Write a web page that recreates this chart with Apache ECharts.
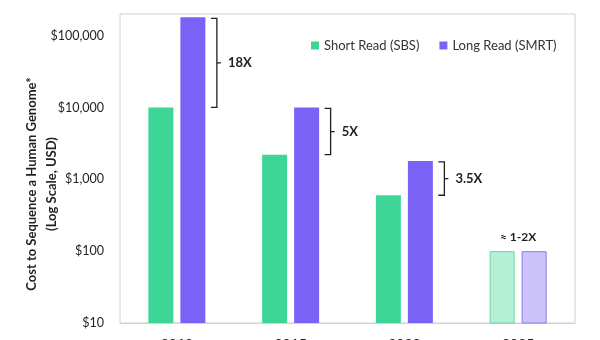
<!DOCTYPE html>
<html>
<head>
<meta charset="utf-8">
<script src="https://cdn.jsdelivr.net/npm/echarts@6/dist/echarts.min.js"></script>
<style>
  html, body { margin: 0; padding: 0; background: #fff; }
  #chart { width: 600px; height: 340px; }
</style>
</head>
<body>
<div id="chart"></div>
<script>
// Sequencing cost per human genome, short vs long read (log scale)
const years = ['2010', '2015', '2020', '2025'];
const shortRead = [10000, 2200, 600, 100];
const longRead = [180000, 10000, 1800, 100];
const ratioLabels = ['18X', '5X', '3.5X', '≈ 1-2X'];
const yTicks = [10, 100, 1000, 10000, 100000];

const FONT = 'Lato, "Noto Sans", sans-serif';
const INK = '#1f1f1f';
const GREEN = '#3dd696';
const PURPLE = '#7b62f6';
const GREEN_LIGHT = '#b3f0d6';
const PURPLE_LIGHT = '#cdc3fb';

// The last year is a projection: lighter fills with a thin outline
const projected = 3;
const shortData = shortRead.map((v, i) => i === projected
  ? { value: v, itemStyle: { color: GREEN_LIGHT, borderColor: '#6fd3a8', borderWidth: 1 } }
  : v);
const longData = longRead.map((v, i) => i === projected
  ? { value: v, itemStyle: { color: PURPLE_LIGHT, borderColor: '#8c78ee', borderWidth: 1 } }
  : v);

const bracketData = years.map((y, i) => [i, shortRead[i], longRead[i], ratioLabels[i]]);

const BAR_W = 25;

function renderBracket(params, api) {
  const idx = api.value(0);
  const lo = api.value(1);
  const hi = api.value(2);
  const label = ratioLabels[idx];
  const pLo = api.coord([idx, lo]);
  const pHi = api.coord([idx, hi]);
  const cx = pLo[0];
  if (lo === hi) {
    return {
      type: 'text',
      style: {
        text: label, x: cx, y: pHi[1] - 14,
        align: 'center', verticalAlign: 'middle',
        font: 'bold 12px ' + FONT, fill: INK
      }
    };
  }
  const x0 = cx + 34;
  const x1 = x0 + 6;
  const yT = pHi[1] + 1;
  const yB = pLo[1];
  const ym = (yT + yB) / 2;
  return {
    type: 'group',
    children: [
      {
        type: 'polyline',
        shape: { points: [[x0, yT], [x1, yT], [x1, ym], [x1 + 4, ym], [x1, ym], [x1, yB], [x0, yB]] },
        style: { stroke: INK, lineWidth: 1.3, fill: null }
      },
      {
        type: 'text',
        style: {
          text: label, x: x1 + 11, y: ym,
          align: 'left', verticalAlign: 'middle',
          font: 'bold 13px ' + FONT, fill: INK
        }
      }
    ]
  };
}

const chart = echarts.init(document.getElementById('chart'), null, { renderer: 'canvas' });
chart.setOption({
  animation: false,
  textStyle: { fontFamily: FONT },
  grid: {
    left: 120, right: 25, top: 14, bottom: 17,
    outerBoundsMode: 'none',
    containLabel: false,
    show: true, borderColor: '#d2d2d2', borderWidth: 1
  },
  legend: {
    left: 306, top: 34,
    icon: 'rect', itemWidth: 8, itemHeight: 8, itemGap: 20,
    textStyle: { fontSize: 13, color: '#333', fontFamily: FONT },
    data: ['Short Read (SBS)', 'Long Read (SMRT)']
  },
  xAxis: {
    type: 'category',
    data: years,
    axisLine: { lineStyle: { color: '#d2d2d2' } },
    axisTick: { show: false },
    axisLabel: { margin: 14, fontSize: 14, fontWeight: 'bold', color: INK }
  },
  yAxis: {
    type: 'log',
    logBase: 10,
    min: yTicks[0],
    max: 200000,
    splitLine: { show: false },
    axisLine: { show: false },
    axisTick: { show: false },
    axisLabel: {
      margin: 16, fontSize: 12.5, color: INK,
      formatter: function (v) {
        const r = Math.round(v);
        if (yTicks.indexOf(r) < 0) return '';
        return '$' + r.toLocaleString('en-US');
      }
    }
  },
  graphic: [{
    type: 'text',
    x: 42, y: 184,
    rotation: Math.PI / 2,
    style: {
      text: 'Cost to Sequence a Human Genome*\n(Log Scale, USD)',
      align: 'center', verticalAlign: 'middle',
      lineHeight: 20,
      font: 'bold 13px ' + FONT, fill: INK
    }
  }],
  series: [
    {
      name: 'Short Read (SBS)', type: 'bar',
      data: shortData, barWidth: BAR_W, barGap: '28%',
      itemStyle: { color: GREEN }
    },
    {
      name: 'Long Read (SMRT)', type: 'bar',
      data: longData, barWidth: BAR_W, barGap: '28%',
      itemStyle: { color: PURPLE }
    },
    {
      type: 'custom',
      data: bracketData,
      encode: { x: 0, y: [1, 2] },
      renderItem: renderBracket,
      silent: true,
      z: 5
    }
  ]
});
</script>
</body>
</html>
